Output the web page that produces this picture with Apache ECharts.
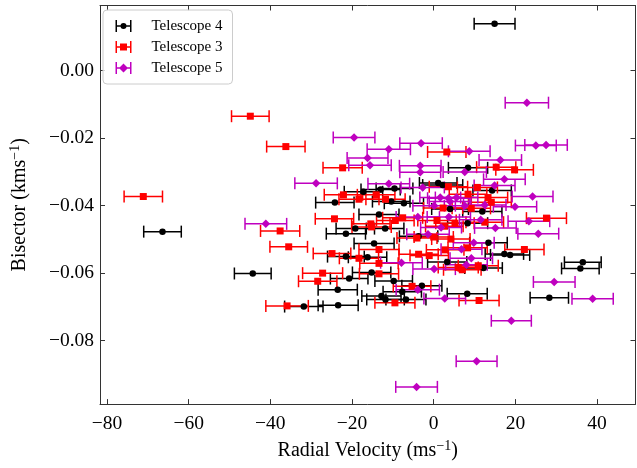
<!DOCTYPE html>
<html>
<head>
<meta charset="utf-8">
<script src="https://cdn.jsdelivr.net/npm/echarts@6/dist/echarts.min.js"></script>
<style>
html,body{margin:0;padding:0;background:#fff;}
#chart{width:637px;height:468px;}
</style>
</head>
<body>
<div id="chart"></div>
<script>
// ---- data ----
var seriesNames = ['Telescope 4', 'Telescope 3', 'Telescope 5'];

var t4x = [14.9, -66.4, -44.3, -31.8, -23.4, -20.7, -23.5, -15.2, -9.8, -2.9, -7.7, -12.8, -11.8, -6.8, -16.2, -21.5, 3.3, 36.5, 35.9, 28.3, 8.2, 12.2, 8.4, 14.3, 4.0, 11.9, 8.3, 13.4, 17.3, 18.7, 1.1, 2.2, -17.2, -13.0, -9.6, -24.2, -10.4, -7.3, -13.4, -19.2, -11.9, -21.5, -3.7, -14.6];
var t4y = [0.0139, -0.0477, -0.0601, -0.0699, -0.0695, -0.0616, -0.0649, -0.0598, -0.0623, -0.0637, -0.0655, -0.0668, -0.0678, -0.0678, -0.0553, -0.0551, -0.0567, -0.0568, -0.0586, -0.0673, -0.0661, -0.0585, -0.0288, -0.0355, -0.0410, -0.0417, -0.0452, -0.0510, -0.0543, -0.0546, -0.0333, -0.0339, -0.0359, -0.0352, -0.0349, -0.0391, -0.0388, -0.0393, -0.0426, -0.0468, -0.0468, -0.0483, -0.0491, -0.0512];
var t4e = [5.0, 4.6, 4.5, 4.7, 4.9, 4.6, 4.8, 4.7, 4.6, 4.9, 4.7, 4.8, 4.6, 4.9, 4.7, 4.5, 4.8, 4.5, 4.6, 4.7, 4.9, 4.6, 4.8, 4.7, 4.5, 4.8, 4.9, 4.6, 4.7, 4.8, 4.6, 4.9, 4.7, 4.8, 4.5, 4.7, 4.6, 4.8, 4.9, 4.7, 4.6, 4.8, 4.7, 4.9];

var t3x = [-44.9, -36.2, -71.1, -37.6, -35.5, -35.9, -27.2, -28.4, -13.4, -5.3, -9.5, -13.4, -18.3, 11.1, 3.2, 15.3, 19.8, 10.7, 3.6, 13.3, 8.4, 14.1, 9.2, 2.3, 27.6, 12.5, 5.2, 22.2, 10.9, 7.0, -22.3, -22.1, -18.3, -14.1, -11.8, -24.3, -7.6, -9.4, -15.4, -15.2, -13.4, -24.9, -3.7, -1.1, 2.8, -4.1, 0.0, 0.8, 2.6, 6.0, 4.2, 8.3];
var t3y = [-0.0135, -0.0225, -0.0373, -0.0475, -0.0522, -0.0697, -0.0600, -0.0624, -0.0602, -0.0639, -0.0688, -0.0571, -0.0556, -0.0681, -0.0241, -0.0286, -0.0294, -0.0346, -0.0344, -0.0376, -0.0366, -0.0390, -0.0408, -0.0407, -0.0437, -0.0449, -0.0452, -0.0530, -0.0578, -0.0590, -0.0288, -0.0368, -0.0381, -0.0368, -0.0381, -0.0439, -0.0436, -0.0444, -0.0454, -0.0463, -0.0530, -0.0542, -0.0544, -0.0548, -0.0531, -0.0496, -0.0493, -0.0444, -0.0461, -0.0583, -0.0499, -0.0525];
var t3e = [4.6, 4.7, 4.7, 4.8, 4.6, 5.2, 4.9, 4.7, 4.8, 4.6, 4.9, 4.7, 4.8, 4.9, 4.7, 4.8, 4.6, 4.9, 4.7, 4.8, 4.6, 4.9, 4.7, 4.8, 4.9, 4.6, 4.7, 4.8, 4.9, 4.6, 4.8, 4.7, 4.9, 4.6, 4.8, 4.7, 4.9, 4.6, 4.7, 4.8, 4.9, 4.6, 4.8, 4.7, 4.6, 4.9, 4.8, 4.7, 4.6, 4.9, 4.7, 4.8];

var t5x = [22.8, -19.5, -3.1, 25.0, 27.5, 8.7, -11.0, -16.2, -15.6, -3.3, -3.3, 16.3, 7.6, 17.3, 14.9, -28.8, -11.0, -2.7, 24.2, 5.6, 3.6, 1.6, 19.9, 0.1, 23.3, 25.6, 11.5, 3.7, 15.1, 9.8, 9.2, 8.0, -41.1, -3.9, 1.8, -1.4, -7.9, 6.8, 0.1, -3.9, 2.7, 29.5, 38.9, 19.0, 10.5, -4.2, 12.5, 7.6, 4.0];
var t5y = [-0.0095, -0.0198, -0.0215, -0.0222, -0.0220, -0.0239, -0.0233, -0.0259, -0.0280, -0.0282, -0.0301, -0.0265, -0.0300, -0.0322, -0.0340, -0.0334, -0.0335, -0.0346, -0.0373, -0.0376, -0.0378, -0.0376, -0.0403, -0.0400, -0.0446, -0.0483, -0.0442, -0.0434, -0.0466, -0.0510, -0.0556, -0.0575, -0.0454, -0.0434, -0.0465, -0.0485, -0.0569, -0.0529, -0.0588, -0.0649, -0.0675, -0.0626, -0.0676, -0.0741, -0.0861, -0.0937, -0.0398, -0.0400, -0.0388];
var t5e = [5.3, 5.1, 5.2, 5.0, 5.2, 5.1, 5.3, 5.0, 5.2, 5.1, 5.0, 5.2, 5.3, 5.1, 5.0, 5.2, 5.1, 5.3, 5.0, 5.2, 5.1, 5.0, 5.3, 5.2, 5.1, 5.0, 5.2, 5.3, 5.1, 5.0, 5.2, 5.1, 5.1, 5.3, 5.0, 5.2, 5.1, 5.0, 5.2, 5.3, 5.1, 5.1, 5.05, 4.9, 5.0, 5.1, 5.2, 5.0, 5.1];

var xTicks = [-80, -60, -40, -20, 0, 20, 40];
var yTicks = [-0.08, -0.06, -0.04, -0.02, 0.00];

// ---- styling ----
var colors = ['#000000', '#ff0000', '#bf00bf'];
var symbols = ['circle', 'rect', 'diamond'];
var symbolSizes = [6.5, 7, 8.5];
var FONT = 'Liberation Serif';
var X_MIN = -81.7, X_MAX = 49.4, Y_MIN = -0.0988, Y_MAX = 0.0193;

function minusify(s) { return String(s).replace('-', '\u2212'); }

var groups = [[t4x, t4y, t4e], [t3x, t3y, t3e], [t5x, t5y, t5e]];

var legendIcons = [
  'path://M0 0H1.5V12H0Z M14.5 0H16V12H14.5Z M0 5.25H16V6.75H0Z M5 6A3 3 0 1 1 11 6A3 3 0 1 1 5 6Z',
  'path://M0 0H1.5V12H0Z M14.5 0H16V12H14.5Z M0 5.25H16V6.75H0Z M4.5 2.5H11.5V9.5H4.5Z',
  'path://M0 0H1.5V12H0Z M14.5 0H16V12H14.5Z M0 5.25H16V6.75H0Z M8 1.5L12.5 6L8 10.5L3.5 6Z'
];

var series = [];
groups.forEach(function (g, k) {
  var errData = [], ptData = [];
  for (var i = 0; i < g[0].length; i++) {
    errData.push([g[0][i], g[1][i], g[2][i]]);
    ptData.push([g[0][i], g[1][i]]);
  }
  var col = colors[k];
  series.push({
    name: seriesNames[k],
    type: 'custom',
    xAxisIndex: 0, yAxisIndex: 0,
    itemStyle: { color: col },
    encode: { x: 0, y: 1 },
    data: errData,
    renderItem: function (params, api) {
      var x = api.value(0), y = api.value(1), e = api.value(2);
      var pL = api.coord([x - e, y]);
      var pR = api.coord([x + e, y]);
      var st = { stroke: col, lineWidth: 1.5 };
      var h = 6;
      return {
        type: 'group',
        children: [
          { type: 'line', shape: { x1: pL[0], y1: pL[1], x2: pR[0], y2: pR[1] }, style: st },
          { type: 'line', shape: { x1: pL[0], y1: pL[1] - h, x2: pL[0], y2: pL[1] + h }, style: st },
          { type: 'line', shape: { x1: pR[0], y1: pR[1] - h, x2: pR[0], y2: pR[1] + h }, style: st }
        ]
      };
    }
  });
  series.push({
    name: seriesNames[k],
    type: 'scatter',
    xAxisIndex: 0, yAxisIndex: 0,
    symbol: symbols[k],
    symbolSize: symbolSizes[k],
    itemStyle: { color: col, opacity: 1 },
    data: ptData
  });
});

var chart = echarts.init(document.getElementById('chart'), null, { renderer: 'canvas' });

var tickStyle = { color: '#333333', width: 1 };
var axisLineStyle = { color: '#333333', width: 1 };

var option = {
  animation: false,
  backgroundColor: '#ffffff',
  grid: { left: 95.3, right: 1.5, top: 5.5, bottom: 58.5, containLabel: false },
  legend: {
    orient: 'vertical',
    left: 103, top: 10,
    padding: [8.5, 10, 8.5, 12.5],
    itemWidth: 16, itemHeight: 12, itemGap: 6,
    backgroundColor: 'rgba(255,255,255,0.8)',
    borderColor: '#cccccc', borderWidth: 1, borderRadius: 4,
    itemStyle: { borderWidth: 0 },
    textStyle: { fontFamily: FONT, fontSize: 15, color: '#000', lineHeight: 12, padding: [0, 0, 0, 15] },
    data: seriesNames.map(function (n, k) { return { name: n, icon: legendIcons[k], itemStyle: { color: colors[k] } }; })
  },
  xAxis: [{
    type: 'value', position: 'bottom', min: X_MIN, max: X_MAX,
    axisLine: { show: true, onZero: false, lineStyle: axisLineStyle },
    axisTick: { show: true, inside: true, length: 5, lineStyle: tickStyle, customValues: xTicks },
    axisLabel: { show: true, customValues: xTicks, margin: 10, fontFamily: FONT, fontSize: 19.5, color: '#000',
      formatter: function (v) { return minusify(Math.round(v)); } },
    splitLine: { show: false },
    name: 'Radial Velocity (ms{sup|\u22121})',
    nameLocation: 'middle', nameGap: 29,
    nameTextStyle: { fontFamily: FONT, fontSize: 20, color: '#000', lineHeight: 24,
      rich: { sup: { fontFamily: FONT, fontSize: 14, verticalAlign: 'top', lineHeight: 14, color: '#000' } } }
  }, {
    type: 'value', position: 'top', min: X_MIN, max: X_MAX,
    axisLine: { show: true, onZero: false, lineStyle: axisLineStyle },
    axisTick: { show: true, inside: true, length: 5, lineStyle: tickStyle, customValues: xTicks },
    axisLabel: { show: false },
    splitLine: { show: false }
  }],
  yAxis: [{
    type: 'value', position: 'left', min: Y_MIN, max: Y_MAX,
    axisLine: { show: true, onZero: false, lineStyle: axisLineStyle },
    axisTick: { show: true, inside: true, length: 5, lineStyle: tickStyle, customValues: yTicks },
    axisLabel: { show: true, customValues: yTicks, margin: 6, fontFamily: FONT, fontSize: 19.5, color: '#000',
      formatter: function (v) { return minusify((Math.round(v * 100) / 100).toFixed(2)); } },
    splitLine: { show: false },
    name: 'Bisector (kms{sup|\u22121})',
    nameLocation: 'middle', nameGap: 68, nameRotate: 90,
    nameTextStyle: { fontFamily: FONT, fontSize: 20, color: '#000', lineHeight: 24,
      rich: { sup: { fontFamily: FONT, fontSize: 14, verticalAlign: 'top', lineHeight: 14, color: '#000' } } }
  }, {
    type: 'value', position: 'right', min: Y_MIN, max: Y_MAX,
    axisLine: { show: true, onZero: false, lineStyle: axisLineStyle },
    axisTick: { show: true, inside: true, length: 5, lineStyle: tickStyle, customValues: yTicks },
    axisLabel: { show: false },
    splitLine: { show: false }
  }],
  series: series
};
chart.setOption(option);
</script>
</body>
</html>
